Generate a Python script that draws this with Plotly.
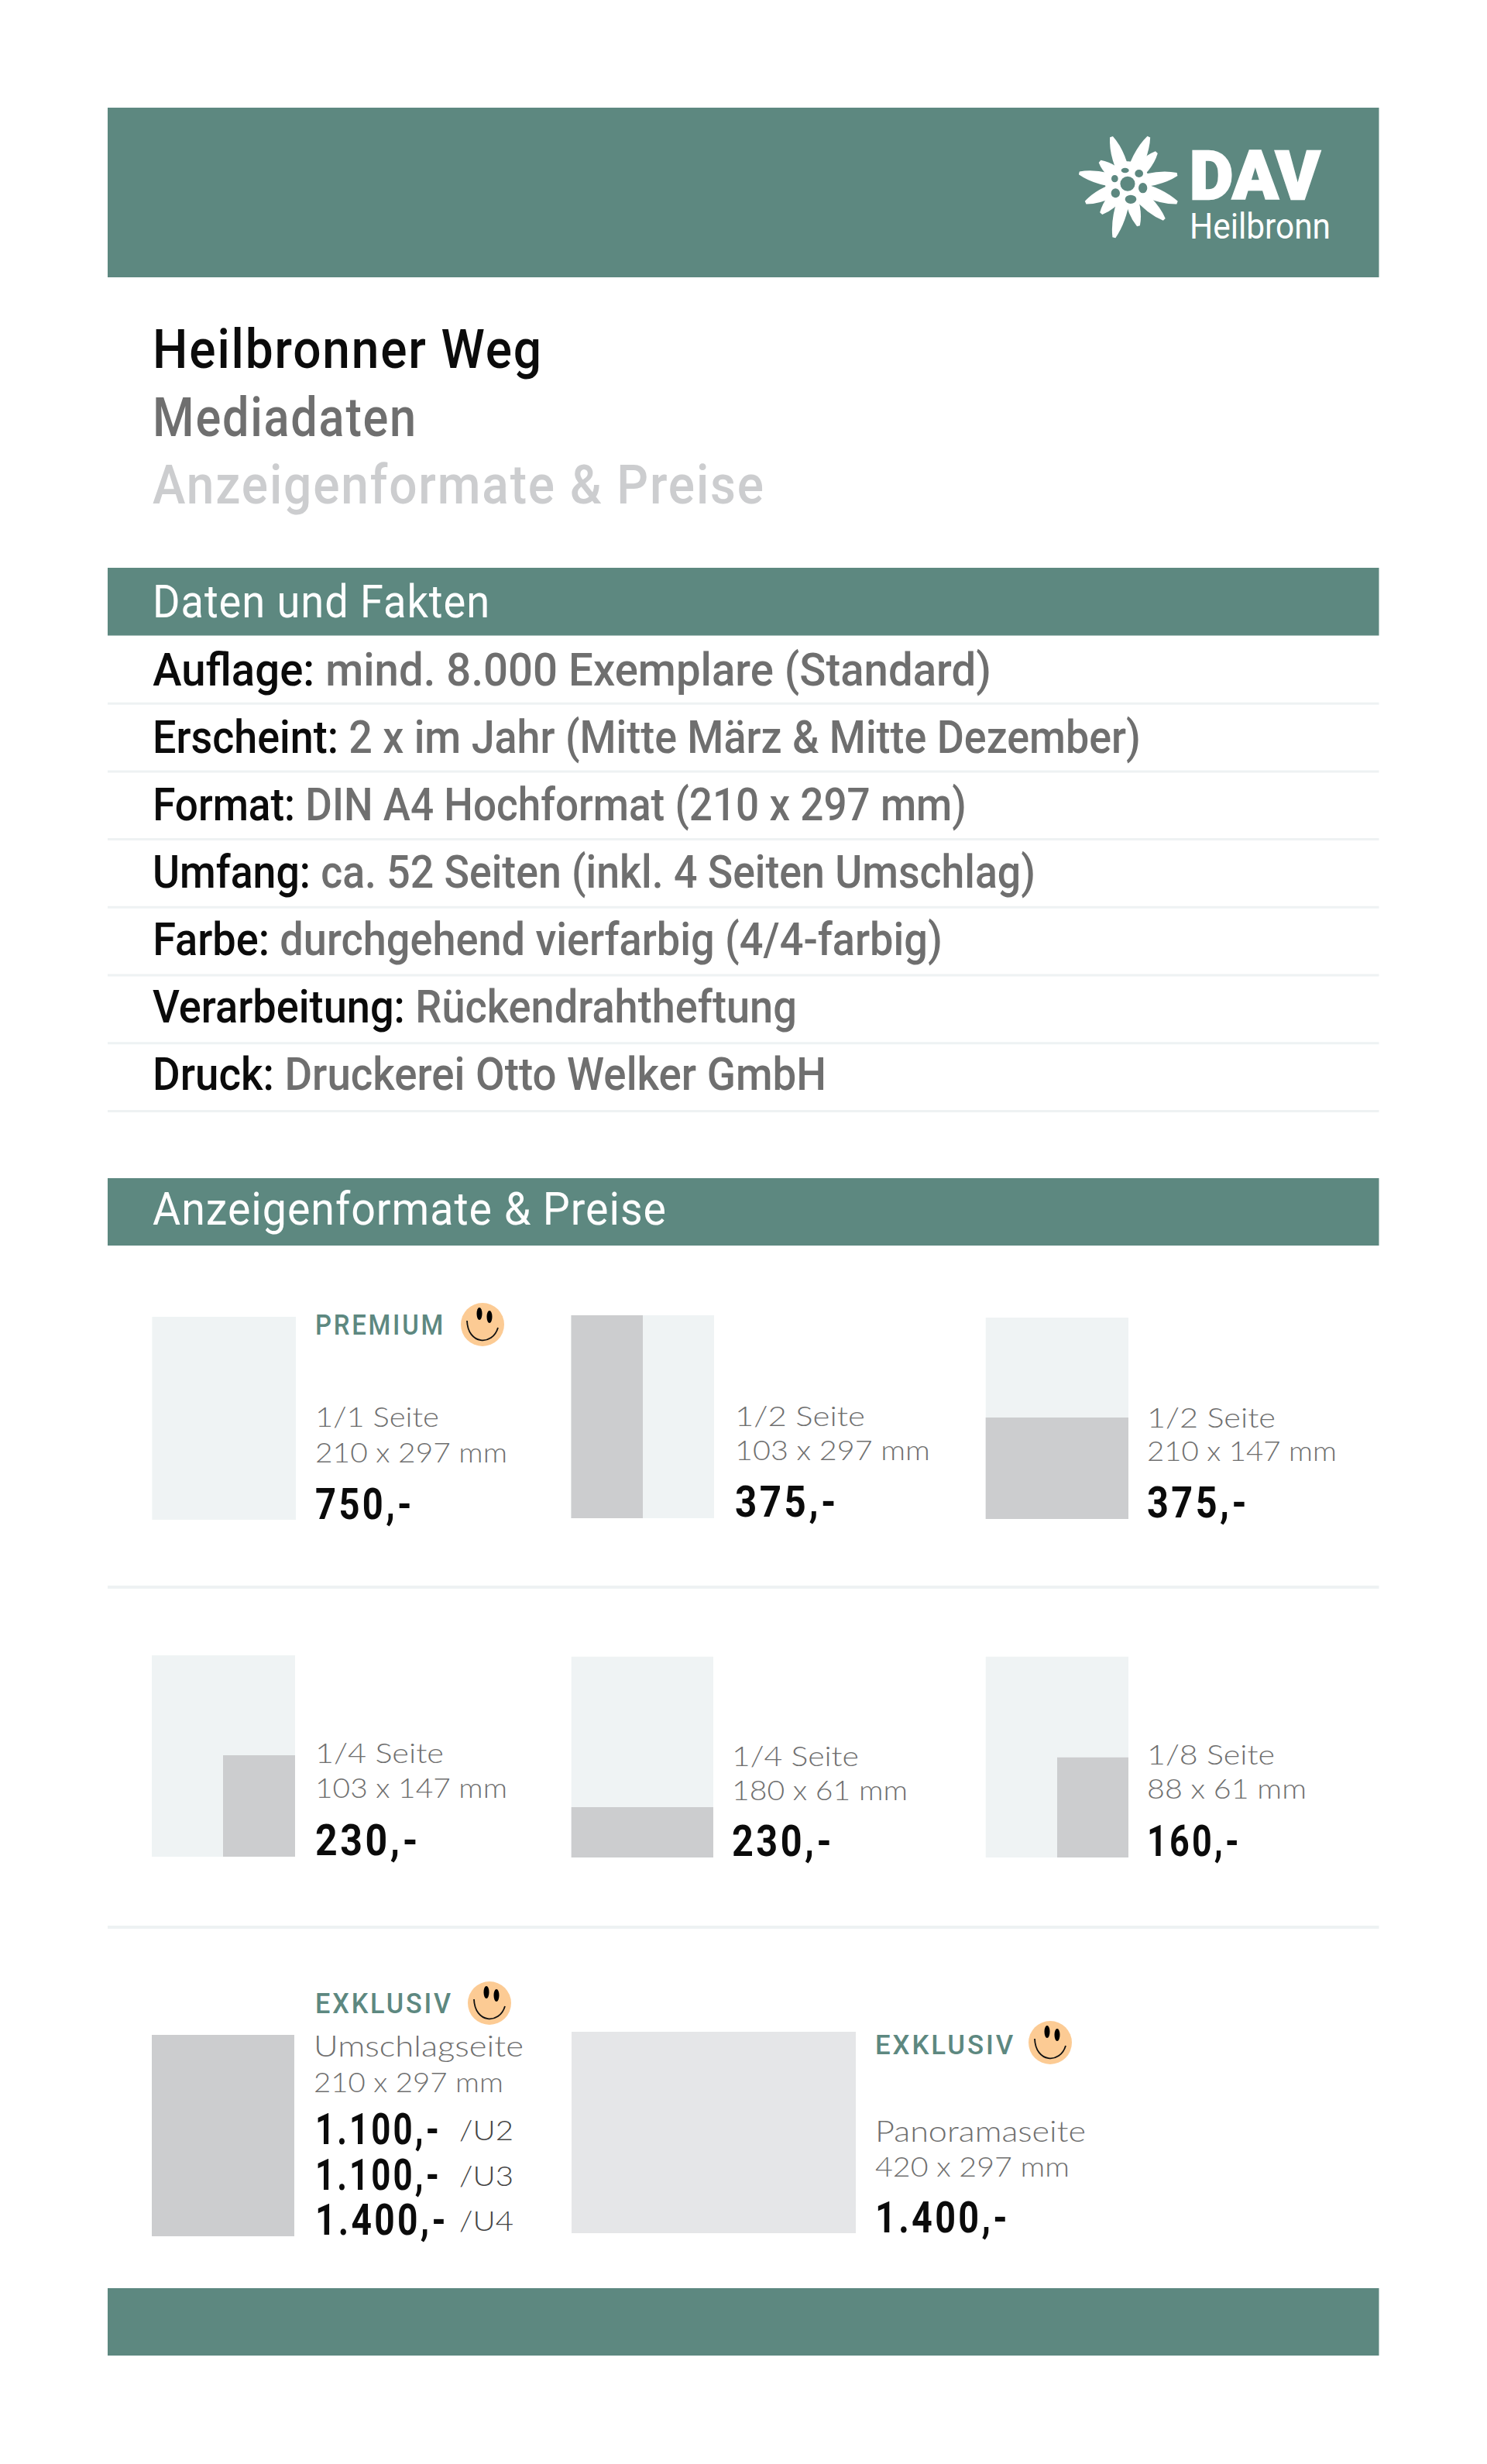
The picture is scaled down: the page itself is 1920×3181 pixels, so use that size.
import json
import numpy as np
import plotly.graph_objects as go

# ---- content ----
TITLE_LINES = ["Heilbronner Weg", "Mediadaten", "Anzeigenformate &amp; Preise"]
SECTION_HEADS = ["Daten und Fakten", "Anzeigenformate &amp; Preise"]
FACT_LABELS = ["Auflage:", "Erscheint:", "Format:", "Umfang:", "Farbe:", "Verarbeitung:", "Druck:"]
FACT_VALUES = ["mind. 8.000 Exemplare (Standard)", "2 x im Jahr (Mitte März &amp; Mitte Dezember)",
               "DIN A4 Hochformat (210 x 297 mm)", "ca. 52 Seiten (inkl. 4 Seiten Umschlag)",
               "durchgehend vierfarbig (4/4-farbig)", "Rückendrahtheftung", "Druckerei Otto Welker GmbH"]
AD_NAMES = ["1/1 Seite", "1/2 Seite", "1/2 Seite", "1/4 Seite", "1/4 Seite", "1/8 Seite", "Umschlagseite", "Panoramaseite"]
AD_SIZES = ["210 x 297 mm", "103 x 297 mm", "210 x 147 mm", "103 x 147 mm", "180 x 61 mm", "88 x 61 mm", "210 x 297 mm", "420 x 297 mm"]
AD_PRICES = ["750,-", "375,-", "375,-", "230,-", "230,-", "160,-", "1.100,-", "1.400,-"]
COVER_PRICES = ["1.100,-", "1.100,-", "1.400,-"]
COVER_SUFFIX = ["/U2", "/U3", "/U4"]
BADGES = ["PREMIUM", "EXKLUSIV", "EXKLUSIV"]

# ---- style ----
GREEN, LIGHT, MID, PANO, RULE = "#5d8880", "#eff3f4", "#cccdcf", "#e5e6e8", "#eef2f3"
GREY, BLACK, SMILE = "#6f6f6f", "#0b0b0b", "#fccb94"
DIN, THIN = "Roboto", "Lato"
L, R = 139, 1780.5

fig = go.Figure()
WIDTHS, SPACING = [], []

def rect(x0, y0, x1, y1, c):
    fig.add_shape(type="rect", x0=x0, y0=y0, x1=x1, y1=y1, fillcolor=c, line_width=0, layer="below")

def path(d, c, lw=0, lc=None):
    fig.add_shape(type="path", path=d, fillcolor=c, line=dict(width=lw, color=lc or c), layer="above")

def ellipse(cx, cy, rx, ry, c):
    fig.add_shape(type="circle", x0=cx - rx, x1=cx + rx, y0=cy - ry, y1=cy + ry, fillcolor=c, line_width=0)

def text(x, y, s, size, color, w=None, family=DIN, weight=500, ls=0):
    fig.add_annotation(x=x, y=y, text=s, xanchor="left", yanchor="middle", showarrow=False,
                       font=dict(family=family, size=size, color=color, weight=weight),
                       borderpad=0, borderwidth=0)
    WIDTHS.append(w)
    SPACING.append(ls)

def thin(x, y, s, size, color, w):
    text(x, y - 2, s, size, color, w, THIN, 300)

# bars
for y0, y1 in [(139, 358), (733, 820.5), (1521, 1608), (2954, 3041)]:
    rect(L, y0, R, y1, GREEN)
for k in range(1, 8):
    yk = 820.5 + 87.7 * k
    rect(L, yk - 1.5, R, yk + 1.5, RULE)
for y in (2049, 2488):
    rect(L, y - 2, R, y + 2, RULE)

# logo
FLOWER_TIPS = [(405, 140), (550, 140), (580, 200), (360, 235), (280, 280), (660, 285),
               (305, 395), (660, 395), (365, 437), (610, 460), (415, 530), (510, 485)]
CX, CY = 468, 322
def z(p):
    return 1300 + p[0] / 3, 130 + p[1] / 3
for t in FLOWER_TIPS:
    t = np.array(t, float); c = np.array([CX, CY], float)
    v = t - c; n = np.array([-v[1], v[0]]) / np.hypot(*v)
    a, b = c + n * 16, c - n * 16
    c1 = c + v * .6 + n * 38; c2 = c + v * .6 - n * 38
    e1 = t + n * 6; e2 = t - n * 6
    pts = [z(a), z(c1), z(e1), z(e2), z(c2), z(b)]
    d = "M{:.1f},{:.1f} Q{:.1f},{:.1f} {:.1f},{:.1f} L{:.1f},{:.1f} Q{:.1f},{:.1f} {:.1f},{:.1f} Z".format(
        *[q for p in pts for q in p])
    path(d, "#ffffff")
ellipse(*z((CX, CY)), 29, 29, "#ffffff")
ellipse(*z((CX, CY)), 9.5, 9.5, GREEN)
for (x, y, rx, ry) in [(458, 270, 15, 10), (512, 282, 16, 15), (527, 338, 17, 20),
                       (480, 382, 22, 17), (421, 358, 17, 18), (418, 302, 13, 14)]:
    ellipse(*z((x, y)), rx / 3, ry / 3, GREEN)
text(1536, 227, "DAV", 87, "#ffffff", 169, weight=900)
text(1536, 292, "Heilbronn", 46, "#ffffff", 182, weight=400)

# titles
for s, y, c, w in zip(TITLE_LINES, (451, 539, 626), (BLACK, GREY, MID), (504, 342, 791)):
    text(197, y, s, 70, c, w, ls=2)
text(197, 776, SECTION_HEADS[0], 59, "#ffffff", 436, weight=400, ls=1)
text(197, 1560, SECTION_HEADS[1], 59, "#ffffff", 664, weight=400, ls=1)

# fact rows
FACT_W = [1083, 1276, 1051, 1140, 1020, 832, 870]
for i, (a, b) in enumerate(zip(FACT_LABELS, FACT_VALUES)):
    text(197, 864.7 + 87.0 * i, f'{a} <span style="color:{GREY}">{b}</span>', 59, BLACK, FACT_W[i])

# ad boxes: (x0,y0,x1,y1) + dark part
BOX = [((196.4, 1700, 382, 1962), None),
       ((737.5, 1698, 922, 1960), (737.5, 1698, 830, 1960)),
       ((1272.7, 1701, 1457, 1961), (1272.7, 1830, 1457, 1961)),
       ((196, 2137, 381, 2397), (288, 2266, 381, 2397)),
       ((737.7, 2138.7, 921, 2398), (737.7, 2333, 921, 2398)),
       ((1272.7, 2138.7, 1457, 2398), (1365, 2268.7, 1457, 2398))]
for b, d in BOX:
    rect(*b, LIGHT)
    if d:
        rect(*d, MID)
rect(196, 2627, 380, 2887, MID)
rect(738, 2623, 1105, 2883, PANO)

# ad texts
POS = [(407, 1830, 1876, 1942), (949, 1829, 1873, 1939), (1481, 1831, 1874, 1940),
       (407, 2264, 2309, 2376), (945, 2268, 2312, 2377), (1481, 2266, 2310, 2377)]
NAME_W = [160, 168, 166, 166, 164, 165]
SIZE_W = [248, 252, 245, 248, 227, 206]
PRICE_W = [128, 134, 132, 136, 132, 122]
for i, (x, y1, y2, y3) in enumerate(POS):
    thin(x, y1, AD_NAMES[i], 36, GREY, NAME_W[i])
    thin(x, y2, AD_SIZES[i], 36, GREY, SIZE_W[i])
    text(x, y3, AD_PRICES[i], 56, BLACK, PRICE_W[i], weight=700, ls=4)
thin(405, 2642, AD_NAMES[6], 38, GREY, 271)
thin(405, 2689, AD_SIZES[6], 36, GREY, 245)
for s, u, y, w in zip(COVER_PRICES, COVER_SUFFIX, (2749, 2808, 2866), (163, 163, 172)):
    text(407, y, s, 56, BLACK, w, weight=700, ls=4)
    thin(593, y + 2, u, 36, "#444444", 70)
thin(1130, 2752, AD_NAMES[7], 38, GREY, 272)
thin(1130, 2798, AD_SIZES[7], 36, GREY, 251)
text(1130, 2863, AD_PRICES[7], 56, BLACK, 174, weight=700, ls=4)

# badges + smileys
def smiley(cx, cy):
    ellipse(cx, cy, 28, 28, SMILE)
    ellipse(cx - 4, cy - 14, 3.5, 8, "#000000")
    ellipse(cx + 9, cy - 10, 3.5, 8, "#000000")
    path(f"M{cx-20},{cy-5} C{cx-19},{cy+26} {cx+13},{cy+28} {cx+20},{cy+4}", "rgba(0,0,0,0)", 1.8, "#111111")
for s, x, y, sx, sy, w in zip(BADGES, (407, 407, 1130), (1711, 2587, 2640), (623, 632, 1356), (1710, 2586, 2637), (168, 178, 181)):
    text(x, y, s, 36, GREEN, w, weight=500, ls=3)
    smiley(sx, sy)

fig.update_layout(width=1920, height=3181, margin=dict(l=0, r=0, t=0, b=0),
                  paper_bgcolor="#ffffff", plot_bgcolor="#ffffff", showlegend=False,
                  xaxis=dict(range=[0, 1920], visible=False, fixedrange=True),
                  yaxis=dict(range=[3181, 0], visible=False, fixedrange=True))

FIT = """
document.body.style.margin='0';
var W=__W__, S=__S__;
document.querySelectorAll('g.annotation').forEach(function(g){
  var i=+g.getAttribute('data-index'), t=g.querySelector('text.annotation-text');
  if(!t||W[i]==null) return;
  var x0=t.getBBox().x;
  if(S[i]) t.style.letterSpacing=S[i]+'px';
  if(t.textContent==='DAV'){t.style.stroke='#ffffff';t.style.strokeWidth='2.5px';}
  var b=t.getBBox(), k=W[i]/b.width;
  t.style.transformBox='fill-box'; t.style.transformOrigin='0% 50%';
  t.style.transform='translateX('+(x0-b.x)+'px) scaleX('+k+')';
});
""".replace("__W__", json.dumps(WIDTHS)).replace("__S__", json.dumps(SPACING))
fig.write_html("out.html", post_script=FIT, config={"displayModeBar": False})
